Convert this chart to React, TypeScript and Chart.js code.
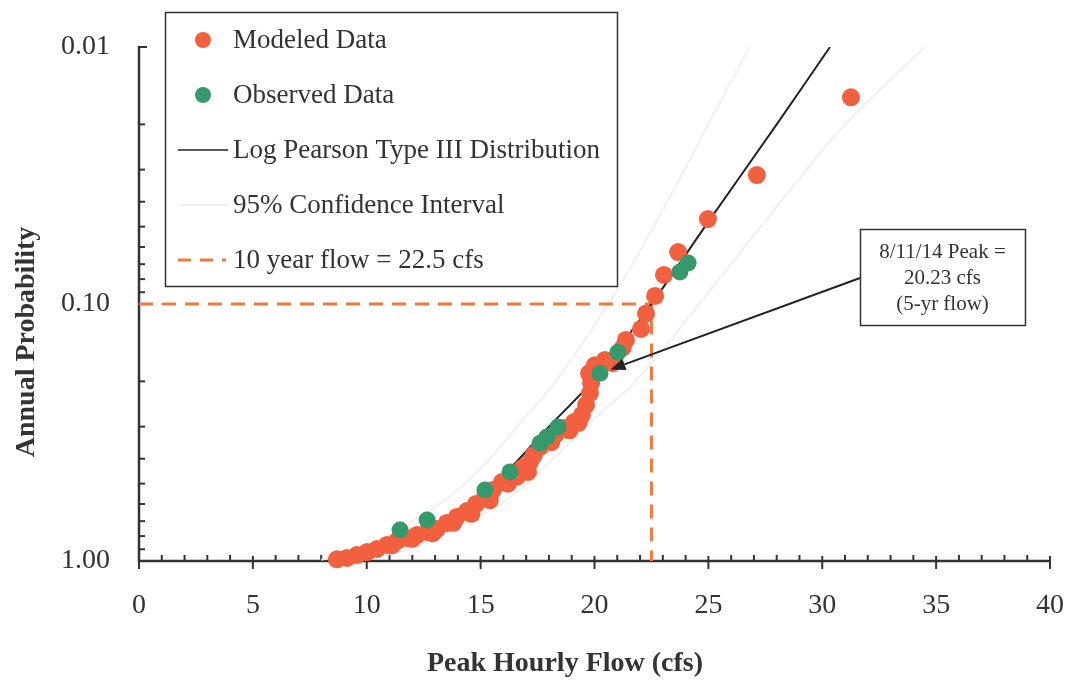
import React, { useEffect, useRef } from 'react';
import { Chart, registerables } from 'chart.js';

Chart.register(...registerables);

const FONT = "'Liberation Serif', 'Times New Roman', serif";

// ---- data ----
const modeledFlow = [8.69, 9.13, 9.57, 10.01, 10.45, 10.89, 11.1, 11.33, 11.77, 12.0, 12.21, 12.65, 12.9, 13.08, 13.52, 13.8, 13.96, 14.4, 14.6, 14.8, 15.19, 15.4, 15.54, 15.94, 16.2, 16.38, 16.6, 16.82, 17.08, 17.17, 17.34, 17.61, 17.96, 18.1, 18.31, 18.7, 18.9, 19.1, 19.3, 19.45, 19.63, 19.8, 19.85, 19.76, 20.02, 20.46, 20.8, 21.24, 21.38, 22.04, 22.26, 22.66, 23.05, 23.67, 24.98, 27.13, 31.26];
const modeledProb = [0.985, 0.973, 0.948, 0.923, 0.898, 0.866, 0.87, 0.836, 0.814, 0.82, 0.792, 0.771, 0.78, 0.751, 0.711, 0.71, 0.674, 0.639, 0.655, 0.6, 0.564, 0.58, 0.529, 0.493, 0.5, 0.463, 0.47, 0.435, 0.45, 0.412, 0.387, 0.36, 0.338, 0.345, 0.32, 0.304, 0.31, 0.288, 0.29, 0.27, 0.247, 0.222, 0.203, 0.186, 0.173, 0.165, 0.17, 0.148, 0.138, 0.125, 0.109, 0.093, 0.0771, 0.0628, 0.0467, 0.0315, 0.0157];

const observedFlow = [11.46, 12.65, 15.19, 16.29, 17.61, 17.91, 18.4, 20.24, 21.03, 23.75, 24.11];
const observedProb = [0.757, 0.693, 0.529, 0.45, 0.348, 0.329, 0.301, 0.186, 0.154, 0.0751, 0.0693];

const curveProb = [0.99, 0.9, 0.8, 0.7, 0.6, 0.5, 0.4, 0.3, 0.2, 0.1, 0.05, 0.02, 0.01];
const lp3Flow = [9.0, 10.7, 12.0, 13.2, 14.5, 15.6, 16.7, 18.0, 19.9, 22.5, 24.85, 28.0, 30.34];
const ciLowerFlow = [8.0, 9.6, 10.9, 12.0, 13.2, 14.3, 15.4, 16.6, 18.3, 20.6, 22.6, 25.0, 26.8];
const ciUpperFlow = [9.9, 11.8, 13.2, 14.5, 15.9, 17.0, 18.2, 19.6, 21.8, 24.6, 27.3, 31.0, 34.5];

const tenYearFlow = 22.5;
const tenYearProb = 0.1;
const xMin = 0;
const xMax = 40;
const yTickValues = [0.01, 0.1, 1];
const peakFlow = 20.7;
const peakProb = 0.18;

const legendLabels = [
  'Modeled Data',
  'Observed Data',
  'Log Pearson Type III Distribution',
  '95% Confidence Interval',
  '10 year flow = 22.5 cfs',
];
const annotationLines = ['8/11/14 Peak =', '20.23 cfs', '(5-yr flow)'];
const xTitle = 'Peak Hourly Flow (cfs)';
const yTitle = 'Annual Probability';

// ---- styles ----
const RED = '#f2603f';
const GREEN = '#36996b';
const LINE = '#222222';
const CI = '#f0f0f0';
const ORANGE = '#ee7a3c';
const AXIS = '#333333';
const TEXT = '#333333';

const pts = (xs: number[], ys: number[]) => xs.map((x, i) => ({ x, y: ys[i] }));

const axesPlugin = {
  id: 'customAxes',
  beforeDatasetsDraw(chart: any) {
    const { ctx, chartArea, scales } = chart;
    const xs = scales.x;
    const ys = scales.y;
    ctx.save();
    ctx.strokeStyle = AXIS;
    ctx.lineWidth = 2.5;
    ctx.beginPath();
    ctx.moveTo(chartArea.left, chartArea.top - 1);
    ctx.lineTo(chartArea.left, chartArea.bottom);
    ctx.lineTo(chartArea.right + 1, chartArea.bottom);
    ctx.stroke();
    ctx.lineWidth = 2;
    for (let v = xMin; v <= xMax; v += 1) {
      const px = xs.getPixelForValue(v);
      ctx.beginPath();
      if (v % 5 === 0) {
        ctx.moveTo(px, chartArea.bottom - 5);
        ctx.lineTo(px, chartArea.bottom + 8);
      } else {
        ctx.moveTo(px, chartArea.bottom - 6);
        ctx.lineTo(px, chartArea.bottom);
      }
      ctx.stroke();
    }
    for (let d = 0.01; d < 1.5; d *= 10) {
      for (let m = 1; m <= 9; m++) {
        const v = d * m;
        if (v > 1.0001) break;
        const py = ys.getPixelForValue(v);
        const major = m === 1;
        ctx.beginPath();
        ctx.moveTo(chartArea.left, py);
        ctx.lineTo(chartArea.left + (major ? 8 : 6), py);
        ctx.stroke();
      }
    }
    ctx.restore();
  },
  afterDraw(chart: any) {
    const { ctx, scales } = chart;
    ctx.save();
    ctx.fillStyle = TEXT;
    ctx.font = `bold 28px ${FONT}`;
    ctx.textAlign = 'center';
    ctx.textBaseline = 'middle';
    ctx.fillText(xTitle, 565, 664);
    ctx.save();
    ctx.translate(27, 342);
    ctx.rotate(-Math.PI / 2);
    ctx.fillText(yTitle, 0, 0);
    ctx.restore();

    // legend
    ctx.fillStyle = '#ffffff';
    ctx.fillRect(165, 12, 452, 274);
    ctx.strokeStyle = '#333';
    ctx.lineWidth = 1.5;
    ctx.strokeRect(165.5, 12.5, 452, 274);
    const rows = [40, 95, 150, 205, 260];
    ctx.fillStyle = RED;
    ctx.beginPath();
    ctx.arc(203, rows[0], 8, 0, Math.PI * 2);
    ctx.fill();
    ctx.fillStyle = GREEN;
    ctx.beginPath();
    ctx.arc(203, rows[1], 8, 0, Math.PI * 2);
    ctx.fill();
    ctx.strokeStyle = LINE;
    ctx.lineWidth = 1.6;
    ctx.beginPath();
    ctx.moveTo(178, rows[2]);
    ctx.lineTo(228, rows[2]);
    ctx.stroke();
    ctx.strokeStyle = CI;
    ctx.lineWidth = 2;
    ctx.beginPath();
    ctx.moveTo(178, rows[3]);
    ctx.lineTo(228, rows[3]);
    ctx.stroke();
    ctx.strokeStyle = ORANGE;
    ctx.lineWidth = 3;
    ctx.setLineDash([13, 9]);
    ctx.beginPath();
    ctx.moveTo(178, rows[4]);
    ctx.lineTo(226, rows[4]);
    ctx.stroke();
    ctx.setLineDash([]);
    ctx.fillStyle = TEXT;
    ctx.font = `27px ${FONT}`;
    ctx.textAlign = 'left';
    ctx.textBaseline = 'middle';
    legendLabels.forEach((t, i) => ctx.fillText(t, 233, rows[i] + 1));

    // annotation box + arrow
    const bx = 860, by = 229, bw = 165, bh = 96;
    ctx.fillStyle = '#ffffff';
    ctx.fillRect(bx, by, bw, bh);
    ctx.strokeStyle = '#333';
    ctx.lineWidth = 1.5;
    ctx.strokeRect(bx + 0.5, by + 0.5, bw, bh);
    ctx.fillStyle = TEXT;
    ctx.font = `21px ${FONT}`;
    ctx.textAlign = 'center';
    annotationLines.forEach((t, i) => ctx.fillText(t, bx + bw / 2, by + 23 + i * 26));

    const tx = scales.x.getPixelForValue(peakFlow);
    const ty = scales.y.getPixelForValue(peakProb);
    const sx = bx, sy = by + 49;
    const ang = Math.atan2(ty - sy, tx - sx);
    const hl = 15, hw = 6;
    const ex = tx - hl * Math.cos(ang);
    const ey = ty - hl * Math.sin(ang);
    ctx.strokeStyle = LINE;
    ctx.lineWidth = 2;
    ctx.beginPath();
    ctx.moveTo(sx, sy);
    ctx.lineTo(ex, ey);
    ctx.stroke();
    ctx.fillStyle = LINE;
    ctx.beginPath();
    ctx.moveTo(tx, ty);
    ctx.lineTo(ex + hw * Math.sin(ang), ey - hw * Math.cos(ang));
    ctx.lineTo(ex - hw * Math.sin(ang), ey + hw * Math.cos(ang));
    ctx.closePath();
    ctx.fill();
    ctx.restore();
  },
};

export default function App() {
  const ref = useRef<HTMLCanvasElement | null>(null);

  useEffect(() => {
    if (!ref.current) return;
    const chart = new Chart(ref.current, {
      type: 'scatter',
      data: {
        datasets: [
          {
            label: 'Observed Data',
            data: pts(observedFlow, observedProb),
            backgroundColor: GREEN,
            borderWidth: 0,
            pointRadius: 8.5,
            order: 0,
            clip: false,
          } as any,
          {
            label: 'Modeled Data',
            data: pts(modeledFlow, modeledProb),
            backgroundColor: RED,
            borderWidth: 0,
            pointRadius: 9,
            order: 1,
            clip: false,
          } as any,
          {
            label: 'Log Pearson Type III Distribution',
            data: pts(lp3Flow, curveProb),
            showLine: true,
            borderColor: LINE,
            borderWidth: 2,
            pointRadius: 0,
            tension: 0.3,
            order: 2,
          } as any,
          {
            label: '10 year flow',
            data: [
              { x: xMin, y: tenYearProb },
              { x: tenYearFlow, y: tenYearProb },
              { x: tenYearFlow, y: 1 },
            ],
            showLine: true,
            borderColor: ORANGE,
            borderWidth: 3,
            borderDash: [14, 9],
            pointRadius: 0,
            order: 3,
          } as any,
          {
            label: '95% CI lower',
            data: pts(ciLowerFlow, curveProb),
            showLine: true,
            borderColor: CI,
            borderWidth: 2,
            pointRadius: 0,
            tension: 0.3,
            order: 4,
          } as any,
          {
            label: '95% CI upper',
            data: pts(ciUpperFlow, curveProb),
            showLine: true,
            borderColor: CI,
            borderWidth: 2,
            pointRadius: 0,
            tension: 0.3,
            order: 5,
          } as any,
        ],
      },
      options: {
        animation: false,
        responsive: false,
        devicePixelRatio: 1,
        events: [],
        layout: { padding: { top: 47, right: 20, left: 0, bottom: 0 } },
        plugins: {
          legend: { display: false },
          tooltip: { enabled: false },
        },
        scales: {
          x: {
            type: 'linear',
            min: xMin,
            max: xMax,
            grid: { display: false, drawTicks: false },
            border: { display: false },
            ticks: {
              stepSize: 5,
              padding: 28,
              color: TEXT,
              font: { family: FONT, size: 28 },
              maxRotation: 0,
            },
            afterFit: (s: any) => {
              s.height = 121;
              s.paddingLeft = 0;
              s.paddingRight = 0;
            },
          },
          y: {
            type: 'logarithmic',
            reverse: true,
            min: 0.01,
            max: 1,
            grid: { display: false, drawTicks: false },
            border: { display: false },
            ticks: {
              padding: 29,
              color: TEXT,
              font: { family: FONT, size: 28 },
              callback: (v: any) => Number(v).toFixed(2),
            },
            afterBuildTicks: (s: any) => {
              s.ticks = yTickValues.map((v) => ({ value: v }));
            },
            afterFit: (s: any) => {
              s.width = 139;
              s.paddingTop = 0;
              s.paddingBottom = 0;
            },
          },
        },
      } as any,
      plugins: [axesPlugin],
    });
    return () => chart.destroy();
  }, []);

  return (
    <div style={{ position: 'fixed', left: 0, top: 0, width: 1070, height: 682, background: '#fff' }}>
      <canvas ref={ref} width={1070} height={682} style={{ display: 'block', width: 1070, height: 682 }} />
    </div>
  );
}
